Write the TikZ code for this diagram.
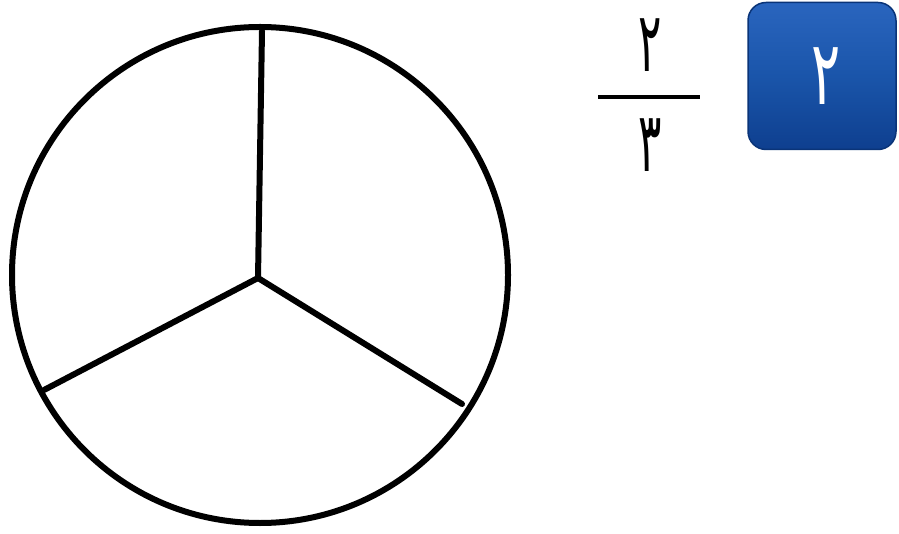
\documentclass[tikz,border=0pt]{standalone}
\usepackage{fontspec}
\newfontfamily\arabicfont[Script=Arabic]{DejaVu Sans}
\TeXXeTstate=1
\definecolor{boxtop}{HTML}{2A65BE}
\definecolor{boxmid}{HTML}{1A55AA}
\definecolor{boxbot}{HTML}{0E3F8F}
\definecolor{boxedge}{HTML}{0A3478}
\tikzset{
  thick line/.style={line width=6pt, black, line cap=round, line join=round},
  digit/.style={inner sep=0pt, font=\arabicfont\fontsize{64}{64}\selectfont},
}
\newcommand{\fracdigit}[1]{\scalebox{0.68}[1.3]{\beginR #1\endR}}
\newcommand{\boxdigit}[1]{\scalebox{0.85}[1.4]{\beginR #1\endR}}
\begin{document}
\begin{tikzpicture}[x=1pt,y=-1pt]
\useasboundingbox (0,0) rectangle (899,534);
\coordinate (c) at (260,275);
\coordinate (m) at (258,278);
\coordinate (t) at (262,31);
\coordinate (l) at (44,390);
\coordinate (r) at (462,404);
\draw[thick line] (c) circle[radius=248];
\draw[thick line] (m) -- (t);
\draw[thick line] (m) -- (l);
\draw[thick line] (m) -- (r);
% fraction
\node[digit, anchor=south] (num) at (650,72) {\fracdigit{٢}};
\draw[line width=4pt] (598,97) coordinate (fb1) -- (700,97) coordinate (fb2);
\node[digit, anchor=north] (den) at (650,118) {\fracdigit{٣}};
% blue box
\node[draw=boxedge, line width=1.5pt, rounded corners=18pt, minimum width=148pt, minimum height=147pt,
  top color=boxtop, bottom color=boxbot, middle color=boxmid, inner sep=0pt] (box) at (822,76) {};
\node[digit, text=white] (bn) at (826,76) {\boxdigit{٢}};
\end{tikzpicture}
\end{document}
